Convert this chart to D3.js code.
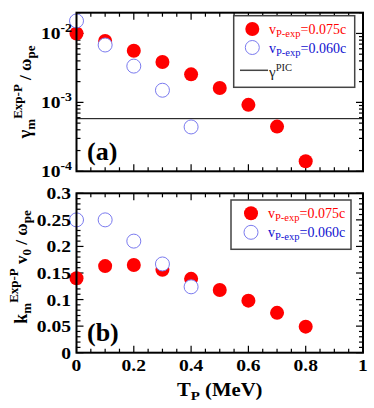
<!DOCTYPE html>
<html>
<head>
<meta charset="utf-8">
<script src="https://cdn.jsdelivr.net/npm/d3@7"></script>
<style>
  html, body { margin: 0; padding: 0; background: #fff; }
  svg { display: block; }
</style>
</head>
<body>
<svg id="chart" width="374" height="408" font-family="'Liberation Serif', Tinos, 'Times New Roman', Times, serif"></svg>
<script>
"use strict";

// ── Data ──────────────────────────────────────────────────────────────────────
const tempRed    = [0, 0.1, 0.2, 0.3, 0.4, 0.5, 0.6, 0.7, 0.8];
const tempBlue   = [0, 0.1, 0.2, 0.3, 0.4];
const gammaRed   = [1.0e-2, 7.8e-3, 5.6e-3, 3.85e-3, 2.55e-3, 1.62e-3, 9.2e-4, 4.45e-4, 1.4e-4];
const gammaBlue  = [1.52e-2, 6.8e-3, 3.36e-3, 1.5e-3, 4.4e-4];
const gammaPIC   = 5.8e-4;
const kRed       = [0.140, 0.163, 0.165, 0.156, 0.139, 0.118, 0.098, 0.075, 0.049];
const kBlue      = [0.250, 0.250, 0.210, 0.167, 0.124];

const xTickVals   = [0, 0.2, 0.4, 0.6, 0.8, 1];
const xTickLabels = ["0", "0.2", "0.4", "0.6", "0.8", "1"];
const logTickVals = [1e-2, 1e-3, 1e-4];
const logTickExps = ["-2", "-3", "-4"];
const kTickVals   = [0, 0.05, 0.1, 0.15, 0.2, 0.25, 0.3];
const kTickLabels = ["0", "0.05", "0.1", "0.15", "0.2", "0.25", "0.3"];

const legendLabels = ["=0.075c", "=0.060c"];

// ── Layout ────────────────────────────────────────────────────────────────────
const RED  = "#ff0000";
const BLUE = "#1010d0";
const BLUE_MARK = "#7b7bef";
const X0 = 76.5, X1 = 363;
const A = { top: 12.7, bottom: 171.3 };
const B = { top: 193.3, bottom: 352.7 };
const STRETCH = 1.15;

const svg = d3.select("#chart");

const x     = d3.scaleLinear().domain([0, 1]).range([X0, X1]);
const yTop  = d3.scaleLog().domain([1e-4, 2e-2]).range([A.bottom, A.top]);
const yBot  = d3.scaleLinear().domain([0, 0.3]).range([B.bottom, B.top]);

// rich text: parts = [{t, size, shift, fill}] shift is baseline offset (neg = up)
function rich(sel, parts) {
  let cur = 0;
  parts.forEach((p) => {
    const s = p.shift || 0;
    const ts = sel.append("tspan")
      .attr("dy", s - cur)
      .attr("font-size", p.size)
      .text(p.t);
    if (p.fill) ts.attr("fill", p.fill);
    cur = s;
  });
}

// ── Ticks (inward, mirrored) ──────────────────────────────────────────────────
function xTicks(g, top, bottom) {
  const minor = d3.range(0, 1.0001, 0.05);
  minor.forEach((v) => {
    const isMajor = Math.abs(v * 5 - Math.round(v * 5)) < 1e-6;
    const len = isMajor ? 7 : 4;
    g.append("line").attr("x1", x(v)).attr("x2", x(v))
      .attr("y1", bottom).attr("y2", bottom - len);
    g.append("line").attr("x1", x(v)).attr("x2", x(v))
      .attr("y1", top).attr("y2", top + len);
  });
}

function yTicks(g, scale, vals, majorTest) {
  vals.forEach((v) => {
    const len = majorTest(v) ? 7 : 4;
    const yy = scale(v);
    g.append("line").attr("x1", X0).attr("x2", X0 + len).attr("y1", yy).attr("y2", yy);
    g.append("line").attr("x1", X1).attr("x2", X1 - len).attr("y1", yy).attr("y2", yy);
  });
}

// ── Panel (a) ─────────────────────────────────────────────────────────────────
const gA = svg.append("g");

gA.append("line")
  .attr("x1", X0).attr("x2", X1)
  .attr("y1", yTop(gammaPIC)).attr("y2", yTop(gammaPIC))
  .attr("stroke", "#000").attr("stroke-width", 1);

const ticksA = gA.append("g").attr("stroke", "#000").attr("stroke-width", 1.2);
xTicks(ticksA, A.top, A.bottom);
yTicks(ticksA, yTop, yTop.ticks().filter((v) => v <= 2e-2),
  (v) => Math.abs(Math.log10(v) - Math.round(Math.log10(v))) < 1e-6);

gA.selectAll("circle.red").data(tempRed).join("circle")
  .attr("class", "red")
  .attr("cx", (d) => x(d)).attr("cy", (d, i) => yTop(gammaRed[i]))
  .attr("r", 7).attr("fill", RED);

gA.selectAll("circle.blue").data(tempBlue).join("circle")
  .attr("class", "blue")
  .attr("cx", (d) => x(d)).attr("cy", (d, i) => yTop(gammaBlue[i]))
  .attr("r", 7).attr("fill", "#fff")
  .attr("stroke", BLUE_MARK).attr("stroke-width", 1);

gA.append("rect")
  .attr("x", X0).attr("y", A.top).attr("width", X1 - X0).attr("height", A.bottom - A.top)
  .attr("fill", "none").attr("stroke", "#000").attr("stroke-width", 2);

logTickVals.forEach((v, i) => {
  const t = gA.append("text")
    .attr("text-anchor", "end").attr("font-weight", "bold")
    .attr("transform", `translate(72,${yTop(v) + 6}) scale(${STRETCH},1)`);
  rich(t, [{ t: "10", size: 17 }, { t: logTickExps[i], size: 12, shift: -7 }]);
});

const labA = gA.append("text")
  .attr("text-anchor", "middle").attr("font-weight", "bold")
  .attr("transform", `translate(31,${(A.top + A.bottom) / 2}) rotate(-90)`);
rich(labA, [
  { t: "γ", size: 19 }, { t: "m", size: 13, shift: 4 },
  { t: "Exp-P", size: 13, shift: -9 }, { t: " / ω", size: 17 },
  { t: "pe", size: 13, shift: 4 }
]);

gA.append("text").attr("x", 87).attr("y", 160)
  .attr("font-size", 26).attr("font-weight", "bold").text("(a)");

// legend (a)
const legA = gA.append("g");
legA.append("rect").attr("x", 233.7).attr("y", 15.7).attr("width", 121).attr("height", 71.6)
  .attr("fill", "#fff").attr("stroke", "#444").attr("stroke-width", 1.5);
legA.append("circle").attr("cx", 252.3).attr("cy", 29).attr("r", 7).attr("fill", RED);
legA.append("circle").attr("cx", 252.3).attr("cy", 47.5).attr("r", 7).attr("fill", "#fff")
  .attr("stroke", BLUE_MARK).attr("stroke-width", 1);
[RED, BLUE].forEach((c, i) => {
  const t = legA.append("text").attr("x", 269).attr("y", 33.5 + i * 19).attr("fill", c);
  rich(t, [{ t: "v", size: 14 }, { t: "P-exp", size: 10.5, shift: 3.5 }, { t: legendLabels[i], size: 14 }]);
});
legA.append("line").attr("x1", 240).attr("x2", 268).attr("y1", 70.3).attr("y2", 70.3)
  .attr("stroke", "#444").attr("stroke-width", 1.5);
const picT = legA.append("text").attr("x", 269).attr("y", 77).attr("fill", "#222");
rich(picT, [{ t: "γ", size: 15 }, { t: "PIC", size: 10.5, shift: -6 }]);

// ── Panel (b) ─────────────────────────────────────────────────────────────────
const gB = svg.append("g");

const ticksB = gB.append("g").attr("stroke", "#000").attr("stroke-width", 1.2);
xTicks(ticksB, B.top, B.bottom);
yTicks(ticksB, yBot, d3.range(0, 0.3001, 0.01),
  (v) => Math.abs(v * 20 - Math.round(v * 20)) < 1e-6);

gB.selectAll("circle.red").data(tempRed).join("circle")
  .attr("class", "red")
  .attr("cx", (d) => x(d)).attr("cy", (d, i) => yBot(kRed[i]))
  .attr("r", 7).attr("fill", RED);

gB.selectAll("circle.blue").data(tempBlue).join("circle")
  .attr("class", "blue")
  .attr("cx", (d) => x(d)).attr("cy", (d, i) => yBot(kBlue[i]))
  .attr("r", 7).attr("fill", "#fff")
  .attr("stroke", BLUE_MARK).attr("stroke-width", 1);

gB.append("rect")
  .attr("x", X0).attr("y", B.top).attr("width", X1 - X0).attr("height", B.bottom - B.top)
  .attr("fill", "none").attr("stroke", "#000").attr("stroke-width", 2);

kTickVals.forEach((v, i) => {
  gB.append("text")
    .attr("text-anchor", "end").attr("font-weight", "bold").attr("font-size", 17)
    .attr("transform", `translate(71,${yBot(v) + 6}) scale(${STRETCH},1)`)
    .text(kTickLabels[i]);
});

xTickVals.forEach((v, i) => {
  gB.append("text")
    .attr("text-anchor", "middle").attr("font-weight", "bold").attr("font-size", 17)
    .attr("transform", `translate(${x(v)},${B.bottom + 18}) scale(${STRETCH},1)`)
    .text(xTickLabels[i]);
});

const xLab = gB.append("text")
  .attr("text-anchor", "middle").attr("font-weight", "bold")
  .attr("transform", `translate(${x(0.5)},396) scale(${STRETCH},1)`);
rich(xLab, [{ t: "T", size: 18 }, { t: "P", size: 13, shift: 4 }, { t: " (MeV)", size: 18, shift: 0 }]);

const labB = gB.append("text")
  .attr("text-anchor", "middle").attr("font-weight", "bold")
  .attr("transform", `translate(27,267) rotate(-90)`);
rich(labB, [
  { t: "k", size: 18 }, { t: "m", size: 13, shift: 4 },
  { t: "Exp-P", size: 13, shift: -9 }, { t: " v", size: 17 },
  { t: "0", size: 13, shift: 4 }, { t: " / ω", size: 17 },
  { t: "pe", size: 13, shift: 4 }
]);

gB.append("text").attr("x", 87).attr("y", 341)
  .attr("font-size", 26).attr("font-weight", "bold").text("(b)");

// legend (b)
const legB = gB.append("g");
legB.append("rect").attr("x", 231).attr("y", 200).attr("width", 120).attr("height", 49.3)
  .attr("fill", "#fff").attr("stroke", "#444").attr("stroke-width", 1.5);
legB.append("circle").attr("cx", 251).attr("cy", 213.3).attr("r", 7).attr("fill", RED);
legB.append("circle").attr("cx", 251).attr("cy", 232.3).attr("r", 7).attr("fill", "#fff")
  .attr("stroke", BLUE_MARK).attr("stroke-width", 1);
[RED, BLUE].forEach((c, i) => {
  const t = legB.append("text").attr("x", 268).attr("y", 217.5 + i * 19).attr("fill", c);
  rich(t, [{ t: "v", size: 14 }, { t: "P-exp", size: 10.5, shift: 3.5 }, { t: legendLabels[i], size: 14 }]);
});
</script>
</body>
</html>
